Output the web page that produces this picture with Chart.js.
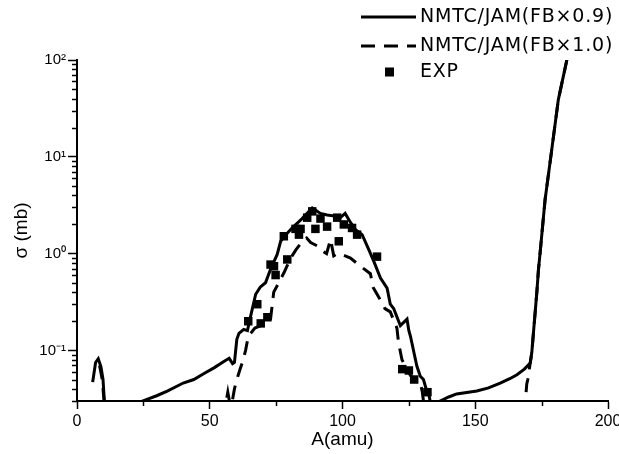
<!DOCTYPE html>
<html>
<head>
<meta charset="utf-8">
<script src="https://cdn.jsdelivr.net/npm/chart.js@4.4.1/dist/chart.umd.min.js"></script>
<style>
  html, body { margin: 0; padding: 0; background: #fff; }
  #wrap { width: 619px; height: 454px; }
</style>
</head>
<body>
<div id="wrap"><canvas id="chart" width="619" height="454"></canvas></div>
<script>
// NMTC/JAM (FB x 0.9) - solid curve
const fb09A = [5.9, 7, 8, 9, 9.8, 10.3, 10.8, 24, 24.7, 30, 34, 40, 44, 48, 51.6, 55, 57.3, 58.6, 59.3, 60.2, 61, 62.8, 64.2, 65.4, 67.3, 69, 71, 73, 75.4, 76.7, 78.5, 81, 84.8, 88.6, 91.7, 94.2, 97, 99.2, 101, 103, 104.9, 107.4, 109.9, 111.8, 114.3, 116.8, 118, 119.3, 121.8, 124.3, 125, 125.6, 128, 129.3, 130.5, 131.5, 132.3, 133, 133.5, 136, 136.8, 140, 143, 150.6, 155, 159.4, 163, 165.7, 168.5, 170.7, 171.3, 171.9, 173.2, 173.8, 174.4, 176.3, 178.8, 181.3, 184.5];
const fb09Sigma = [0.047, 0.075, 0.082, 0.068, 0.05, 0.03, 0.02, 0.02, 0.03, 0.034, 0.038, 0.046, 0.05, 0.058, 0.066, 0.076, 0.083, 0.073, 0.075, 0.13, 0.15, 0.165, 0.16, 0.226, 0.38, 0.45, 0.5, 0.7, 0.98, 1.34, 1.55, 1.84, 2.3, 2.96, 2.6, 2.5, 2.45, 2.35, 2.6, 2.1, 1.77, 1.57, 1.1, 0.83, 0.56, 0.44, 0.3, 0.27, 0.18, 0.21, 0.16, 0.14, 0.069, 0.054, 0.05, 0.04, 0.038, 0.03, 0.025, 0.025, 0.03, 0.033, 0.0355, 0.038, 0.041, 0.046, 0.051, 0.056, 0.064, 0.074, 0.095, 0.15, 0.4, 0.68, 1.0, 3.6, 11.8, 39, 100];

// NMTC/JAM (FB x 1.0) - dashed curve
const fb10A = [8.5, 9.5, 10.2, 10.8, 55.8, 56.2, 56.8, 57.6, 58.5, 59.3, 60.2, 61.5, 62.3, 63.5, 64.5, 67, 69.2, 72.9, 74.1, 76, 77.9, 80.5, 82.5, 85, 86.5, 88, 90.5, 91.7, 94, 95.5, 96.7, 98, 100, 103, 106.8, 110.5, 111.5, 114.3, 116, 118, 120.5, 121.1, 122.4, 125.6, 129.3, 130, 130.5, 131, 168.5, 168.8, 169.4, 169.8, 170.7, 171.3, 171.9, 173.2, 173.8, 174.4, 176.3, 178.8, 181.3, 184.5];
const fb10Sigma = [0.07, 0.05, 0.03, 0.02, 0.025, 0.03, 0.037, 0.028, 0.03, 0.04, 0.05, 0.065, 0.075, 0.1, 0.14, 0.17, 0.18, 0.21, 0.4, 0.5, 0.63, 0.9, 1.1, 1.35, 1.45, 1.3, 1.2, 1.1, 1.0, 1.4, 0.95, 1.0, 0.97, 0.9, 0.74, 0.62, 0.45, 0.33, 0.27, 0.25, 0.17, 0.12, 0.08, 0.055, 0.046, 0.038, 0.03, 0.025, 0.025, 0.028, 0.045, 0.05, 0.074, 0.095, 0.15, 0.4, 0.68, 1.0, 3.6, 11.8, 39, 100];

// EXP - measured points
const expA = [64.5, 67.9, 69.2, 71.7, 72.9, 74.2, 74.8, 77.9, 79.2, 82.3, 83.6, 84.2, 86.7, 88.6, 89.8, 91.7, 94.2, 98, 98.6, 100.5, 103.6, 105.5, 113, 122.5, 125, 127, 132];
const expSigma = [0.2, 0.3, 0.19, 0.22, 0.77, 0.74, 0.6, 1.51, 0.87, 1.8, 1.57, 1.8, 2.35, 2.73, 1.8, 2.3, 1.9, 2.35, 1.34, 2.0, 1.84, 1.57, 0.93, 0.064, 0.062, 0.05, 0.037];

const seriesLabels = ["NMTC/JAM(FB\u00d70.9)", "NMTC/JAM(FB\u00d71.0)", "EXP"];
const xTicks = [0, 50, 100, 150, 200];
const xMinorTicks = [25, 75, 125, 175];
const yTicks = [0.1, 1, 10, 100];
const yTickLabels = ["10\u207b\u00b9", "10\u2070", "10\u00b9", "10\u00b2"];

const toPoints = (xs, ys) => xs.map((x, i) => ({ x: x, y: ys[i] }));

Chart.defaults.font.family = "'Liberation Sans', Arial, sans-serif";
Chart.defaults.color = "#000";

// minor tick marks + the legend at top right
const extrasPlugin = {
  id: "extras",
  afterDraw(chart) {
    const ctx = chart.ctx;
    const area = chart.chartArea;
    const xs = chart.scales.x;
    const ys = chart.scales.y;
    ctx.save();
    ctx.strokeStyle = "#000";
    ctx.lineWidth = 1.5;
    // y minor ticks
    for (let d = 0.01; d < 100; d *= 10) {
      for (let k = 2; k <= 9; k++) {
        const v = k * d;
        if (v < ys.min || v > ys.max) continue;
        const py = Math.round(ys.getPixelForValue(v)) + 0.5;
        ctx.beginPath();
        ctx.moveTo(area.left - 5, py);
        ctx.lineTo(area.left, py);
        ctx.stroke();
      }
    }
    // x minor ticks
    xMinorTicks.forEach(v => {
      const px = Math.round(xs.getPixelForValue(v)) + 0.5;
      ctx.beginPath();
      ctx.moveTo(px, area.bottom);
      ctx.lineTo(px, area.bottom + 5);
      ctx.stroke();
    });

    // legend
    const ds = chart.data.datasets;
    const rows = [17, 46, 72];
    ctx.font = "19px 'DejaVu Sans', sans-serif";
    ctx.letterSpacing = "0.8px";
    ctx.textBaseline = "middle";
    ctx.fillStyle = "#000";
    ds.forEach((d, i) => {
      const y = rows[i];
      if (d.showLine === false) {
        ctx.fillRect(385, y - 4.5, 9, 9);
      } else {
        ctx.lineWidth = d.borderWidth;
        ctx.setLineDash(d.borderDash || []);
        ctx.beginPath();
        ctx.moveTo(361, y);
        ctx.lineTo(416, y);
        ctx.stroke();
        ctx.setLineDash([]);
      }
      ctx.fillText(d.label, 420, y);
    });
    ctx.restore();
  }
};

new Chart(document.getElementById("chart"), {
  type: "scatter",
  data: {
    datasets: [
      {
        label: seriesLabels[0],
        data: toPoints(fb09A, fb09Sigma),
        showLine: true,
        borderColor: "#000",
        borderWidth: 3,
        pointRadius: 0,
        tension: 0,
        clip: 0
      },
      {
        label: seriesLabels[1],
        data: toPoints(fb10A, fb10Sigma),
        showLine: true,
        borderColor: "#000",
        borderWidth: 3,
        borderDash: [14, 9],
        pointRadius: 0,
        tension: 0,
        clip: 0
      },
      {
        label: seriesLabels[2],
        data: toPoints(expA, expSigma),
        showLine: false,
        backgroundColor: "#000",
        borderColor: "#000",
        borderWidth: 0,
        pointStyle: "rect",
        pointRadius: 6,
        clip: 0
      }
    ]
  },
  options: {
    responsive: false,
    animation: false,
    layout: { autoPadding: false, padding: { top: 60, right: 11, left: 0, bottom: 0 } },
    plugins: {
      legend: { display: false },
      tooltip: { enabled: false }
    },
    scales: {
      x: {
        type: "linear",
        min: 0,
        max: 200,
        afterBuildTicks: (scale) => { scale.ticks = xTicks.map(v => ({ value: v })); },
        afterFit: (scale) => {
          scale.height = 53;
          scale.paddingLeft = 0;
          scale.paddingRight = 0;
        },
        ticks: { font: { size: 16 }, padding: 3, maxRotation: 0 },
        grid: { drawOnChartArea: false, tickLength: 8, tickWidth: 1.5, tickColor: "#000" },
        border: { display: true, color: "#000", width: 2 },
        title: { display: true, text: "A(amu)", font: { size: 19 }, padding: { top: 0, bottom: 3 } }
      },
      y: {
        type: "logarithmic",
        min: 0.03,
        max: 100,
        afterBuildTicks: (scale) => { scale.ticks = yTicks.map(v => ({ value: v, major: true })); },
        afterFit: (scale) => {
          scale.width = 77;
          scale.paddingTop = 0;
          scale.paddingBottom = 0;
        },
        ticks: {
          font: { size: 15 },
          padding: 2,
          callback: (value) => yTickLabels[yTicks.indexOf(value)]
        },
        grid: { drawOnChartArea: false, tickLength: 9, tickWidth: 1.5, tickColor: "#000" },
        border: { display: true, color: "#000", width: 2 },
        title: { display: true, text: "\u03c3 (mb)", font: { size: 19 }, padding: { top: 10, bottom: 0 } }
      }
    }
  },
  plugins: [extrasPlugin]
});
</script>
</body>
</html>
